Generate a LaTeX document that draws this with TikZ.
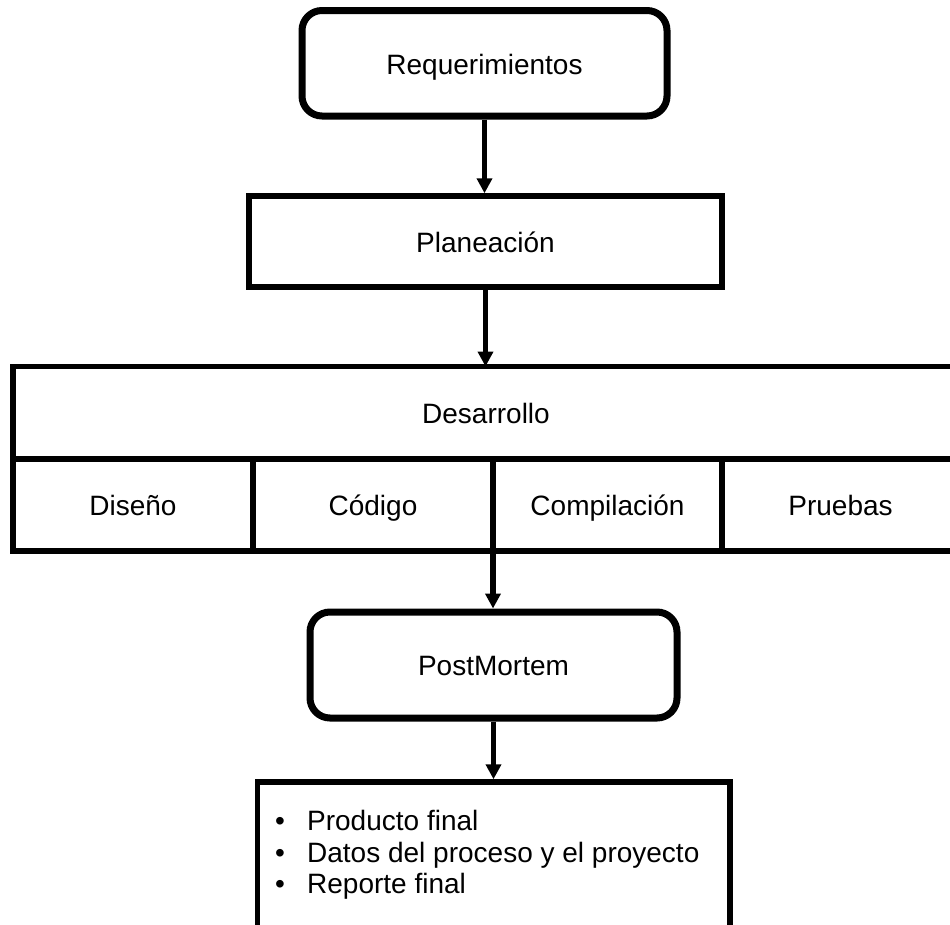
\documentclass[tikz,border=0pt]{standalone}
\usepackage{fontspec}
\setmainfont{Liberation Sans}
\usetikzlibrary{arrows.meta}
\begin{document}
\begin{tikzpicture}[x=1pt,y=-1pt,
  every node/.style={font=\fontsize{28}{31.5}\selectfont, inner sep=0pt},
  label text/.style={text height=25pt, text depth=3.5pt},
  phase/.style={draw, line width=7pt, rounded corners=20pt, label text},
  block/.style={draw, line width=5.5pt, label text},
  cell/.style={draw, line width=5.5pt, outer sep=0pt, minimum height=92pt, label text},
  flow/.style={line width=5.5pt, -{Triangle[width=15pt,length=15pt]}},
  item/.style={anchor=base west},
  ]
\clip (0,0) rectangle (950,924);
\fill[white] (0,0) rectangle (950,924);

% main phases
\node[phase, minimum width=365pt, minimum height=105.5pt] (req) at (484.5,63.25) {Requerimientos};
\node[block, minimum width=473pt, minimum height=91pt] (plan) at (485.5,241.5) {Planeación};

% development block with its four activities
\node[block, outer sep=0pt, minimum width=946pt, minimum height=92.5pt] (dev) at (486,412.75) {Desarrollo};
\node[cell, minimum width=240pt] (dis) at (133,505) {Diseño};
\node[cell, minimum width=240pt] (cod) at (373,505) {Código};
\node[cell, minimum width=229pt] (comp) at (607.5,505) {Compilación};
\node[cell, minimum width=237pt] (prue) at (840.5,505) {Pruebas};

\node[phase, minimum width=367pt, minimum height=106pt] (pm) at (493.5,665) {PostMortem};

% results
\node[block, minimum width=472.5pt, minimum height=200pt] (res) at (493.75,882) {};
\node[item] (r1) at (275,830) {\makebox[32pt][l]{•}Producto final};
\node[item] (r2) at (275,862) {\makebox[32pt][l]{•}Datos del proceso y el proyecto};
\node[item] (r3) at (275,893) {\makebox[32pt][l]{•}Reporte final};

% flow
\draw[flow] (req.south) -- (req.south |- plan.north);
\draw[flow] (plan.south) -- (plan.south |- dev.north);
\draw[flow] (comp.south west) -- (comp.south west |- pm.north);
\draw[flow] (pm.south) -- (pm.south |- res.north);
\end{tikzpicture}
\end{document}
